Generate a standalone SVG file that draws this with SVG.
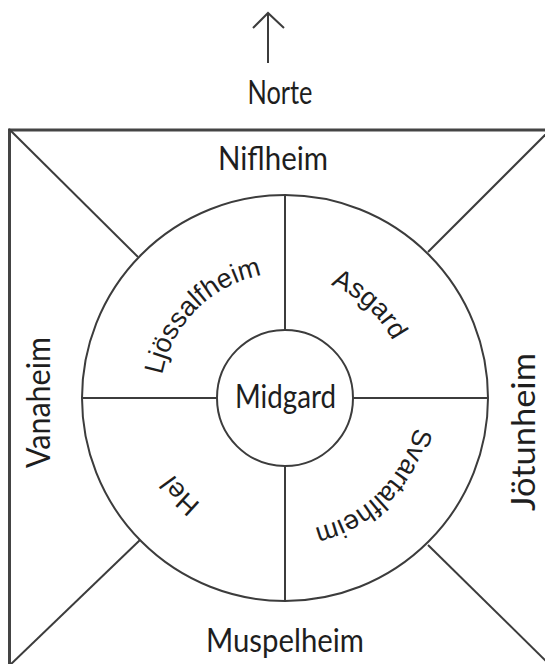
<svg xmlns="http://www.w3.org/2000/svg" width="545" height="664" viewBox="0 0 545 664">
<style>
.ln{fill:none;stroke:#3c3c3c;stroke-width:2}
.frame{fill:none;stroke:#444;stroke-width:3}
.big{font-family:Lato,"Open Sans",sans-serif;font-size:32px;fill:#1e1e1e;text-anchor:middle}
.inner{font-family:"Liberation Sans",Arial,sans-serif;font-size:27px;fill:#1e1e1e;text-anchor:middle}
</style>
<defs>
<path id="pLjo" d="M189.25,478.35 A125,125 0 0 1 365.35,302.25"/>
<path id="pAsg" d="M201.8,308.77 A122,122 0 0 1 382.43,471.42"/>
<path id="pSva" d="M386.88,312.51 A133,133 0 0 1 199.51,499.88"/>
<path id="pHel" d="M368.12,504.38 A135,135 0 0 1 184.68,307.67"/>
</defs>
<rect width="545" height="664" fill="#fff"/>
<g id="compass">
<line class="ln" x1="268" y1="63" x2="268" y2="13" stroke-width="1.6"/>
<polyline class="ln" points="253,28 268,13 284,28" stroke-width="1.6"/>
<text class="big" x="280" y="104" textLength="65" lengthAdjust="spacingAndGlyphs">Norte</text>
</g>
<g id="connectors">
<rect class="frame" x="9.5" y="130" width="542" height="537"/>
<line class="ln" x1="9" y1="129" x2="138" y2="257"/>
<line class="ln" x1="551" y1="129" x2="428" y2="252"/>
<line class="ln" x1="9" y1="666" x2="140" y2="540"/>
<line class="ln" x1="428" y1="545" x2="551" y2="666"/>
<line class="ln" x1="285" y1="195" x2="285" y2="330"/>
<line class="ln" x1="285" y1="466" x2="285" y2="601"/>
<line class="ln" x1="82" y1="398" x2="217" y2="398"/>
<line class="ln" x1="353" y1="398" x2="488" y2="398"/>
</g>
<g id="outer-ring"><circle class="ln" cx="285" cy="398" r="203"/></g>
<g id="midgard">
<circle class="ln" cx="285" cy="398" r="68"/>
<text class="big" x="285.5" y="408" textLength="101" lengthAdjust="spacingAndGlyphs">Midgard</text>
</g>
<g id="niflheim"><text class="big" x="273" y="170" textLength="110" lengthAdjust="spacingAndGlyphs">Niflheim</text></g>
<g id="muspelheim"><text class="big" x="285" y="652" textLength="158" lengthAdjust="spacingAndGlyphs">Muspelheim</text></g>
<g id="vanaheim"><text class="big" transform="translate(50,402.5) rotate(-90)" x="0" y="0" textLength="131" lengthAdjust="spacingAndGlyphs">Vanaheim</text></g>
<g id="jotunheim"><text class="big" transform="translate(535,432) rotate(-90)" x="0" y="0" textLength="158" lengthAdjust="spacingAndGlyphs">Jötunheim</text></g>
<g id="ljossalfheim"><text class="inner"><textPath href="#pLjo" startOffset="50%">Ljössalfheim</textPath></text></g>
<g id="asgard"><text class="inner"><textPath href="#pAsg" startOffset="50%">Asgard</textPath></text></g>
<g id="svartalfheim"><text class="inner"><textPath href="#pSva" startOffset="50%">Svartalfheim</textPath></text></g>
<g id="hel"><text class="inner"><textPath href="#pHel" startOffset="50%">Hel</textPath></text></g>
</svg>
